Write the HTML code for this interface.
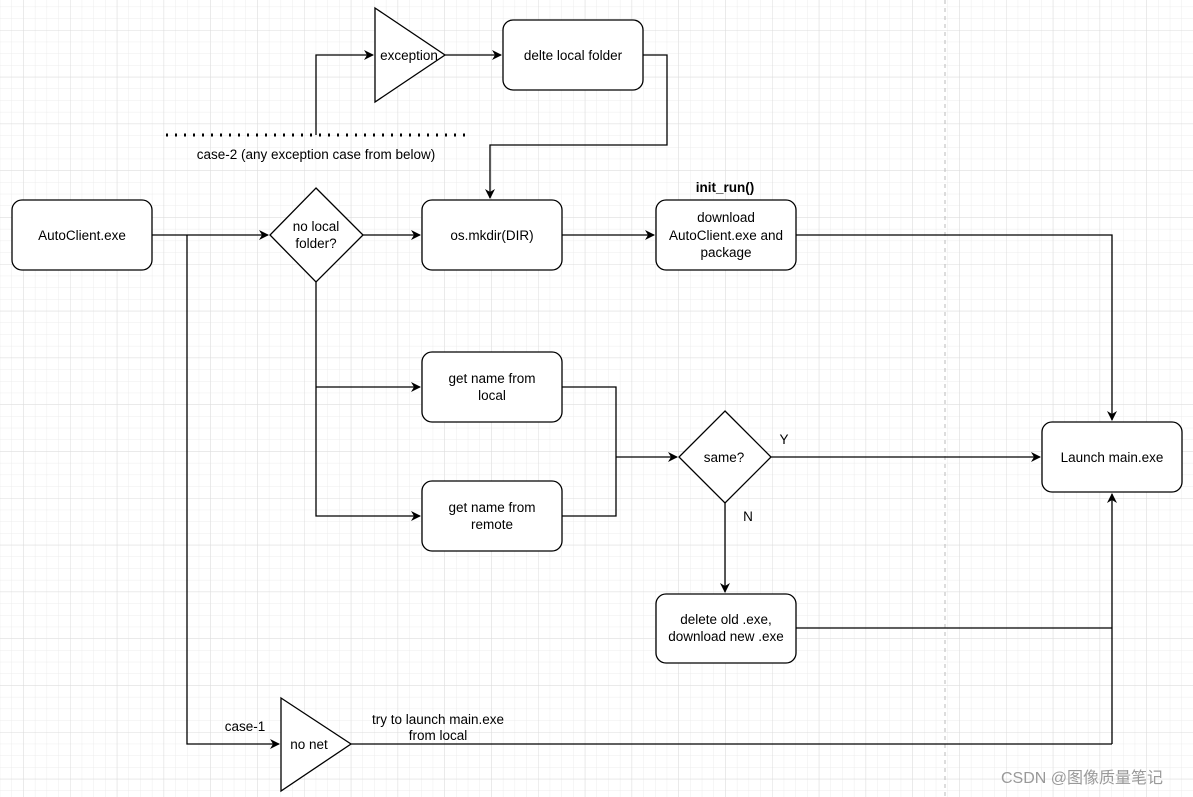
<!DOCTYPE html>
<html><head><meta charset="utf-8"><style>
html,body{margin:0;padding:0;background:#fff;}
svg{display:block;font-family:"Liberation Sans","Noto Sans CJK SC",sans-serif;}
</style></head><body>
<svg width="1193" height="797" viewBox="0 0 1193 797" xmlns="http://www.w3.org/2000/svg">
<defs>
<pattern id="minor" x="11.5" y="6.6" width="11.7" height="11.7" patternUnits="userSpaceOnUse">
<path d="M0 0H11.7M0 0V11.7" stroke="#ececec" stroke-width="1" fill="none"/>
</pattern>
<pattern id="major" x="23.2" y="30" width="46.8" height="46.8" patternUnits="userSpaceOnUse">
<path d="M0 0H46.8M0 0V46.8" stroke="#dcdcdc" stroke-width="1" fill="none"/>
</pattern>
<marker id="a" markerWidth="10" markerHeight="10" refX="9" refY="5" orient="auto" markerUnits="userSpaceOnUse">
<path d="M0 0L10 5L0 10L3 5Z" fill="#000"/>
</marker>
</defs>
<rect width="1193" height="797" fill="url(#minor)"/>
<rect width="1193" height="797" fill="url(#major)"/>
<line x1="945" y1="0" x2="945" y2="797" stroke="#bbb" stroke-dasharray="4 4"/>

<g fill="none" stroke="#000" stroke-width="1.3">
<path d="M166 135H470" stroke-dasharray="2 7" stroke-width="3"/>
<path d="M316 135V55H373" marker-end="url(#a)"/>
<path d="M445 55H501" marker-end="url(#a)"/>
<path d="M643 55H667V145H490V198" marker-end="url(#a)"/>
<path d="M152 235H268" marker-end="url(#a)"/>
<path d="M363 235H420" marker-end="url(#a)"/>
<path d="M562 235H654" marker-end="url(#a)"/>
<path d="M796 235H1112V420" marker-end="url(#a)"/>
<path d="M316 282V516H420" marker-end="url(#a)"/>
<path d="M316 387H420" marker-end="url(#a)"/>
<path d="M562 387H616V516H562"/>
<path d="M616 457H677" marker-end="url(#a)"/>
<path d="M771 457H1040" marker-end="url(#a)"/>
<path d="M725 503V592" marker-end="url(#a)"/>
<path d="M796 628H1112"/>
<path d="M1112 744V494" marker-end="url(#a)"/>
<path d="M187 235V744H279" marker-end="url(#a)"/>
<path d="M351 744H1112"/>
</g>

<g fill="#fff" stroke="#000" stroke-width="1.3">
<rect x="12" y="200" width="140" height="70" rx="10"/>
<path d="M316 188L363 235L316 282L270 235Z"/>
<rect x="422" y="200" width="140" height="70" rx="10"/>
<rect x="656" y="200" width="140" height="70" rx="10"/>
<path d="M375 8L445 55L375 102Z"/>
<rect x="503" y="20" width="140" height="70" rx="10"/>
<rect x="1042" y="422" width="140" height="70" rx="10"/>
<rect x="422" y="352" width="140" height="70" rx="10"/>
<rect x="422" y="481" width="140" height="70" rx="10"/>
<path d="M725 411L771 457L725 503L679 457Z"/>
<rect x="656" y="594" width="140" height="69" rx="10"/>
<path d="M281 698L351 744L281 791Z"/>
</g>

<g font-size="13.5" fill="#000" text-anchor="middle">
<text x="82" y="240">AutoClient.exe</text>
<text x="316" y="231">no local</text>
<text x="316" y="248">folder?</text>
<text x="492" y="240">os.mkdir(DIR)</text>
<text x="726" y="222">download</text>
<text x="726" y="240">AutoClient.exe and</text>
<text x="726" y="257">package</text>
<text x="725" y="192" font-weight="bold">init_run()</text>
<text x="409" y="60">exception</text>
<text x="573" y="60">delte local folder</text>
<text x="316" y="159">case-2 (any exception case from below)</text>
<text x="1112" y="462">Launch main.exe</text>
<text x="492" y="383">get name from</text>
<text x="492" y="400">local</text>
<text x="492" y="512">get name from</text>
<text x="492" y="529">remote</text>
<text x="724" y="462">same?</text>
<text x="784" y="444">Y</text>
<text x="748" y="521">N</text>
<text x="726" y="624">delete old .exe,</text>
<text x="726" y="641">download new .exe</text>
<text x="309" y="749">no net</text>
<text x="245" y="731">case-1</text>
<text x="438" y="724">try to launch main.exe</text>
<text x="438" y="740">from local</text>
</g>
<text x="1082" y="783" font-size="16" fill="#999" text-anchor="middle">CSDN @图像质量笔记</text>
</svg>
</body></html>
